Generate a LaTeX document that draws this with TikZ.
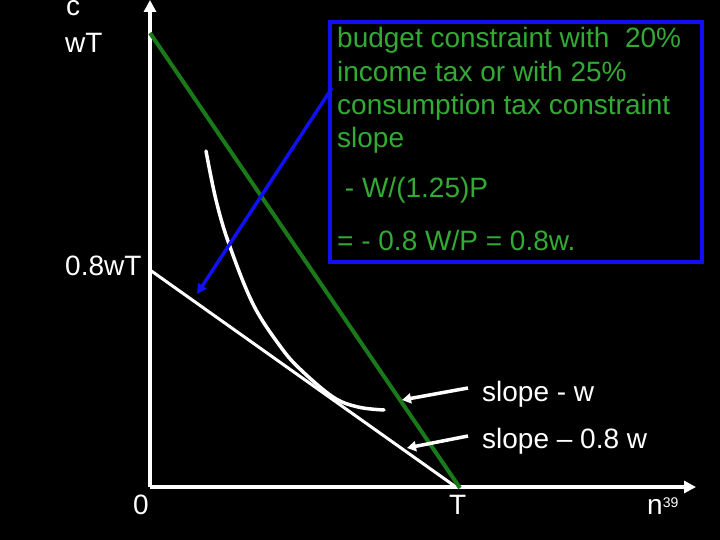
\documentclass[tikz,border=0pt]{standalone}
\usepackage{fontspec}
\setmainfont{Liberation Sans}
\usetikzlibrary{arrows.meta}
\definecolor{txtgreen}{RGB}{51,170,51}
\definecolor{lngreen}{RGB}{26,122,26}
\definecolor{boxblue}{RGB}{16,16,240}
\tikzset{
  lbl/.style={inner sep=0pt, anchor=base west, text=white, font=\fontsize{28}{33.5}\selectfont},
  gtxt/.style={inner sep=0pt, anchor=base west, text=txtgreen, font=\fontsize{28}{33.5}\selectfont},
  axis/.style={white, line width=4pt, -{Triangle[width=12pt,length=12pt]}},
  wline/.style={white, line width=3.5pt},
  ptr/.style={white, line width=3.5pt, -{Triangle[width=10pt,length=9pt]}},
}
\begin{document}
\begin{tikzpicture}[x=1pt,y=-1pt]
\fill[black] (0,0) rectangle (720,540);
\useasboundingbox (0,0) rectangle (720,540);
% key points
\coordinate (O) at (150,487);
\coordinate (ytop) at (150,0);
\coordinate (xend) at (696,487);
\coordinate (gA) at (150,33);
\coordinate (gT) at (460,488);
\coordinate (wA) at (150,270);
\coordinate (wT) at (456,487);
% axes
\draw[axis] (O) -- (ytop);
\draw[axis] (O) -- (xend);
% budget lines
\draw[wline, line width=3pt] (wA) -- (wT);
\draw[lngreen, line width=4pt] (gA) -- (gT);
% indifference curve
\draw[wline, line cap=round] plot[smooth, tension=0.6] coordinates {(206,151) (216,200) (229,244) (253,304) (280,346) (300,369) (333,397) (358,407) (384,410)};
% blue box
\draw[boxblue, line width=4pt] (330,22) rectangle (702,262);
\coordinate (bstart) at (332,88);
\coordinate (bend) at (197,294);
\draw[boxblue, line width=3.5pt, -{Triangle[width=10pt,length=10pt]}] (bstart) -- (bend);
% box text
\node[gtxt] (t1) at (337,48) {budget constraint with\ \ 20\%};
\node[gtxt] (t2) at (337,82) {income tax or with 25\%};
\node[gtxt] (t3) at (337,115) {consumption tax constraint};
\node[gtxt] (t4) at (337,148) {slope};
\node[gtxt] (t5) at (337,198) {\ - W/(1.25)P};
\node[gtxt] (t6) at (337,250) {= - 0.8 W/P = 0.8w.};
% labels
\node[lbl] (c) at (66,16) {c};
\node[lbl] (wTl) at (65,53) {wT};
\node[lbl] (w8) at (65,275) {0.8wT};
\node[lbl] (zero) at (133,514) {0};
\node[lbl] (Tl) at (449,514) {T};
\node[lbl] (n) at (647,514) {n\raisebox{7pt}{\fontsize{14}{16}\selectfont 39}};
\node[lbl] (s1) at (482,401) {slope - w};
\node[lbl] (s2) at (482,448) {slope -- 0.8 w};
% pointers
\coordinate (p1s) at (468,388);
\coordinate (p1e) at (402,400);
\coordinate (p2s) at (468,436);
\coordinate (p2e) at (407,448);
\draw[ptr] (p1s) -- (p1e);
\draw[ptr] (p2s) -- (p2e);
\end{tikzpicture}
\end{document}
